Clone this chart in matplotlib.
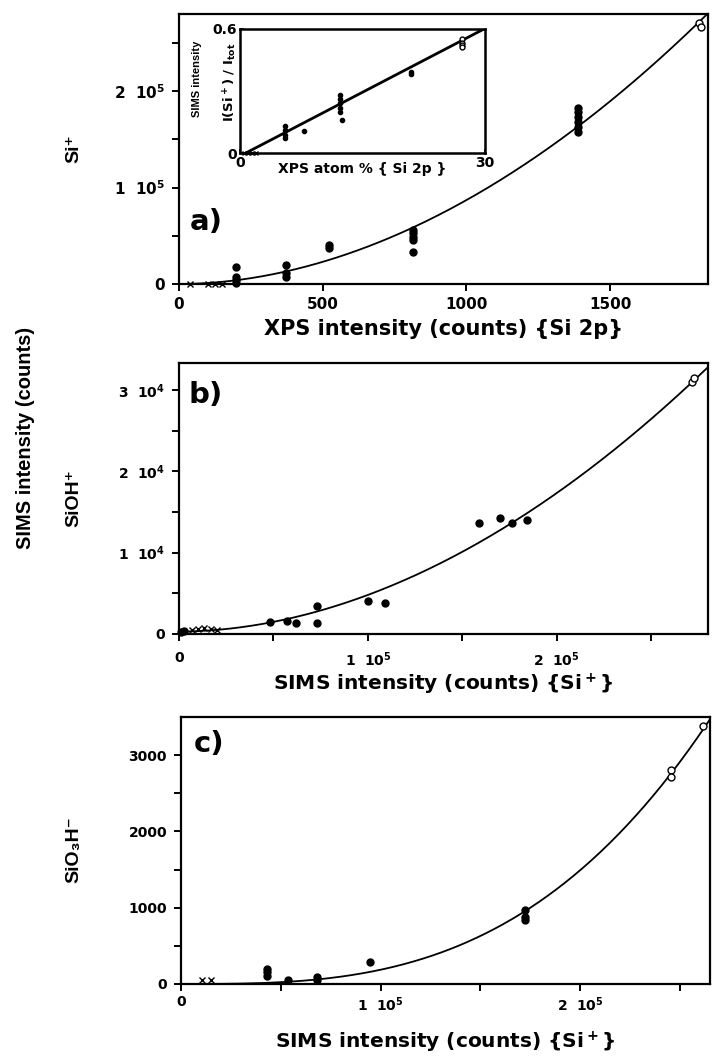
import numpy as np
import matplotlib
matplotlib.use("Agg")
import matplotlib.pyplot as plt

plt.rcParams["font.family"] = ["DejaVu Sans"]
plt.rcParams["font.weight"] = "bold"
plt.rcParams["mathtext.fontset"] = "custom"
plt.rcParams["mathtext.rm"] = "DejaVu Sans:bold"
plt.rcParams["mathtext.it"] = "DejaVu Sans:bold"
plt.rcParams["mathtext.bf"] = "DejaVu Sans:bold"

# ---- panel a: Si+ vs XPS intensity ----
a_cross_x = [37, 100, 124, 149]
a_cross_y = [0, 0, 0, 0]
a_dot_x = [199, 199, 199, 199, 373, 373, 373, 522, 522,
           815, 815, 815, 815, 815, 1387, 1387, 1387, 1387, 1387, 1387]
a_dot_y = [17900, 7600, 4100, 700, 19700, 11000, 7600, 40300, 36900,
           55900, 52400, 49000, 45500, 33400,
           183000, 178000, 173000, 168000, 163000, 158000]
a_open_x = [1810, 1815]
a_open_y = [271000, 267000]
a_fit_at_1000 = 87000   # fitted curve value at x = 1000
a_fit_exp = 1.92

# ---- inset: SIMS ratio vs XPS atom % ----
in_cross_x = [0.5, 1.0, 1.5, 2.0]
in_cross_y = [0, 0, 0, 0]
in_dot_x = [5.5, 5.5, 5.5, 5.5, 7.9, 12.3, 12.3, 12.3, 12.3, 12.3, 12.5, 21.0, 21.0]
in_dot_y = [0.13, 0.11, 0.09, 0.075, 0.105, 0.28, 0.26, 0.24, 0.22, 0.20, 0.16, 0.39, 0.38]
in_open_x = [27.2, 27.2, 27.2, 27.2]
in_open_y = [0.55, 0.53, 0.52, 0.51]
in_fit_x0 = 0.66
in_fit_slope = 0.02045

# ---- panel b: SiOH+ vs Si+ ----
b_cross_x = [7000, 10000, 13000, 17000, 20000]
b_cross_y = [500, 600, 700, 600, 500]
b_dot_x = [1000, 2500, 48000, 57000, 62000, 73000, 73000, 100000, 109000,
           159000, 170000, 176000, 184000]
b_dot_y = [200, 400, 1500, 1600, 1300, 3400, 1300, 4000, 3800,
           13600, 14200, 13600, 14000]
b_open_x = [271700, 272500]
b_open_y = [31000, 31400]
b_fit_offset = 300
b_fit_at_1e5 = 4500
b_fit_exp = 1.92

# ---- panel c: SiO3H- vs Si+ ----
c_cross_x = [10700, 15200]
c_cross_y = [50, 50]
c_dot_x = [43200, 43200, 43200, 53600, 67900, 67900, 94600, 172300, 172300, 172300]
c_dot_y = [197, 154, 110, 53, 88, 53, 285, 965, 877, 833]
c_open_x = [245500, 245500, 261600]
c_open_y = [2807, 2719, 3377]
c_fit_at_1e5 = 186.5
c_fit_exp = 3.0


def sci_label(v, step, power):
    if v == 0:
        return "0"
    k = v / step
    if abs(k - round(k)) > 1e-6:
        return ""
    return f"{int(round(k))}  10$^{power}$"


def plain_label(v, step):
    if abs(v / step - round(v / step)) > 1e-6:
        return ""
    return f"{int(v)}"


def style(ax, size):
    for s in ax.spines.values():
        s.set_linewidth(1.6)
    ax.tick_params(direction="out", length=5, width=1.4, labelsize=size, pad=5)


def draw(ax, cx, cy, dx, dy, ox, oy):
    ax.plot(cx, cy, "x", color="black", ms=4.5, mew=1.0, clip_on=False)
    ax.plot(dx, dy, "o", color="black", ms=5, clip_on=False)
    ax.plot(ox, oy, "o", mfc="white", mec="black", ms=5, mew=1.0, clip_on=False)


fig = plt.figure(figsize=(7.12, 10.57), dpi=100)

# panel a
ax_a = fig.add_axes([0.2514, 0.7313, 0.743, 0.2554])
style(ax_a, 11)
xa = np.linspace(0, 1841, 300)
ax_a.plot(xa, a_fit_at_1000 * (xa / 1000) ** a_fit_exp, color="black", lw=1.3)
draw(ax_a, a_cross_x, a_cross_y, a_dot_x, a_dot_y, a_open_x, a_open_y)
ax_a.set_xlim(0, 1841)
ax_a.set_ylim(0, 2.8e5)
ax_a.set_xticks([0, 500, 1000, 1500])
ya_ticks = np.arange(0, 2.6e5, 0.5e5)
ax_a.set_yticks(ya_ticks)
ax_a.set_yticklabels([sci_label(v, 1e5, 5) for v in ya_ticks])
ax_a.tick_params(axis="x", pad=4)
ax_a.set_xlabel("XPS intensity (counts) {Si 2p}", fontsize=15, fontweight="bold")
ax_a.xaxis.set_label_coords(0.5, -0.13)
ax_a.text(0.052, 0.23, "a)", transform=ax_a.transAxes, fontsize=21,
          fontweight="bold", ha="center", va="center")

# inset
ax_in = fig.add_axes([0.337, 0.855, 0.344, 0.118])
for s in ax_in.spines.values():
    s.set_linewidth(1.8)
xi = np.linspace(in_fit_x0, 30, 50)
ax_in.plot(xi, in_fit_slope * (xi - in_fit_x0), color="black", lw=2.0)
ax_in.plot(in_cross_x, in_cross_y, "x", color="black", ms=3.5, mew=1.0, clip_on=False)
ax_in.plot(in_dot_x, in_dot_y, "o", color="black", ms=3, clip_on=False)
ax_in.plot(in_open_x, in_open_y, "o", mfc="white", mec="black", ms=3.5, mew=1.0, clip_on=False)
ax_in.set_xlim(0, 30)
ax_in.set_ylim(0, 0.6)
ax_in.set_xticks([0, 30])
ax_in.set_yticks([0, 0.6])
ax_in.set_yticklabels(["0", "0.6"])
ax_in.tick_params(direction="in", length=3, width=1.2, labelsize=10, pad=2)
ax_in.text(0.5, -0.13, "XPS atom % { Si 2p }", transform=ax_in.transAxes,
           fontsize=10, fontweight="bold", ha="center", va="center")
ax_in.text(-0.176, 0.6, "SIMS intensity", transform=ax_in.transAxes, rotation=90,
           fontsize=8, fontweight="bold", ha="center", va="center",
           family=["Liberation Sans Narrow", "Liberation Sans"])
ax_in.text(-0.04, 0.57, "I(Si$^+$) / I$_{tot}$", transform=ax_in.transAxes, rotation=90,
           fontsize=9.5, fontweight="bold", ha="center", va="center")

# panel b
ax_b = fig.add_axes([0.2514, 0.4002, 0.743, 0.2564])
style(ax_b, 10)
xb = np.linspace(0, 2.8e5, 300)
ax_b.plot(xb, b_fit_offset + b_fit_at_1e5 * (xb / 1e5) ** b_fit_exp, color="black", lw=1.3)
draw(ax_b, b_cross_x, b_cross_y, b_dot_x, b_dot_y, b_open_x, b_open_y)
ax_b.set_xlim(0, 2.8e5)
ax_b.set_ylim(0, 3.33e4)
xb_ticks = np.arange(0, 2.8e5, 0.5e5)
ax_b.set_xticks(xb_ticks)
ax_b.set_xticklabels([sci_label(v, 1e5, 5) for v in xb_ticks])
yb_ticks = np.arange(0, 3.3e4, 0.5e4)
ax_b.set_yticks(yb_ticks)
ax_b.set_yticklabels([sci_label(v, 1e4, 4) for v in yb_ticks])
ax_b.tick_params(axis="x", pad=7)
ax_b.set_xlabel("SIMS intensity (counts) {Si$^+$}", fontsize=14.5, fontweight="bold")
ax_b.xaxis.set_label_coords(0.5, -0.14)
ax_b.text(0.05, 0.88, "b)", transform=ax_b.transAxes, fontsize=21,
          fontweight="bold", ha="center", va="center")

# panel c
ax_c = fig.add_axes([0.2542, 0.0691, 0.743, 0.2526])
style(ax_c, 10)
xc = np.linspace(0, 2.65e5, 300)
ax_c.plot(xc, c_fit_at_1e5 * (xc / 1e5) ** c_fit_exp, color="black", lw=1.3)
draw(ax_c, c_cross_x, c_cross_y, c_dot_x, c_dot_y, c_open_x, c_open_y)
ax_c.set_xlim(0, 2.65e5)
ax_c.set_ylim(0, 3500)
xc_ticks = np.arange(0, 2.65e5, 0.5e5)
ax_c.set_xticks(xc_ticks)
ax_c.set_xticklabels([sci_label(v, 1e5, 5) for v in xc_ticks])
yc_ticks = np.arange(0, 3500, 500)
ax_c.set_yticks(yc_ticks)
ax_c.set_yticklabels([plain_label(v, 1000) for v in yc_ticks])
ax_c.tick_params(axis="x", pad=3)
ax_c.set_xlabel("SIMS intensity (counts) {Si$^+$}", fontsize=14.5, fontweight="bold")
ax_c.xaxis.set_label_coords(0.5, -0.17)
ax_c.text(0.053, 0.90, "c)", transform=ax_c.transAxes, fontsize=21,
          fontweight="bold", ha="center", va="center")

# y labels (unicode sub/superscripts so the narrower Liberation face is used)
lab_font = ["Liberation Sans", "DejaVu Sans"]
fig.text(74 / 712, 1 - 149 / 1057, "Si\u207a", rotation=90, fontsize=14,
         fontweight="bold", ha="center", va="center", family=lab_font)
fig.text(74 / 712, 1 - 498 / 1057, "SiOH\u207a", rotation=90, fontsize=14,
         fontweight="bold", ha="center", va="center", family=lab_font)
fig.text(74 / 712, 1 - 850 / 1057, "SiO\u2083H\u207b", rotation=90, fontsize=14,
         fontweight="bold", ha="center", va="center", family=lab_font)
fig.text(26 / 712, 1 - 438 / 1057, "SIMS intensity (counts)", rotation=90, fontsize=14.5,
         fontweight="bold", ha="center", va="center",
         family=["Liberation Sans Narrow", "Liberation Sans"])

fig.savefig("out.png", dpi=100)
